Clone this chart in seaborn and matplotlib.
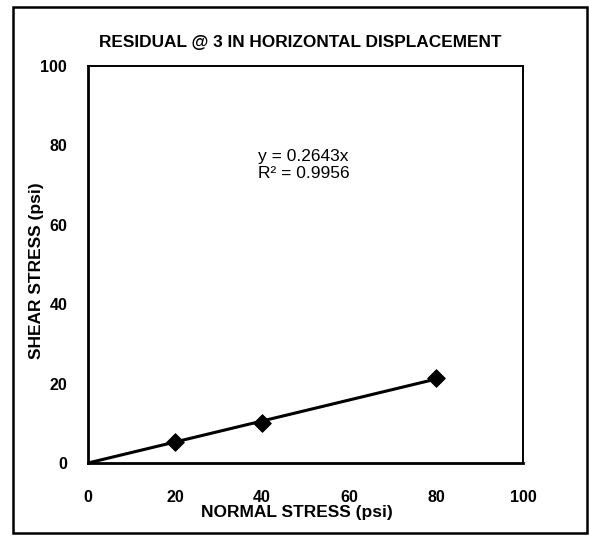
import numpy as np
import pandas as pd
import matplotlib
matplotlib.use("Agg")
import matplotlib.pyplot as plt
import seaborn as sns
from matplotlib.patches import Rectangle

# ---- data ----
normal_stress = [20, 40, 80]
shear_stress = [5.3, 10.0, 21.4]
slope = 0.2643
r_squared = 0.9956
trend_x = [0, 80]
x_ticks = [0, 20, 40, 60, 80, 100]
y_ticks = [0, 20, 40, 60, 80, 100]
title = "RESIDUAL @ 3 IN HORIZONTAL DISPLACEMENT"
x_label = "NORMAL STRESS (psi)"
y_label = "SHEAR STRESS (psi)"

sns.set_theme(style="white")
plt.rcParams["font.family"] = ["Liberation Sans", "DejaVu Sans"]

W, H = 589, 539
fig = plt.figure(figsize=(W / 100, H / 100), dpi=100)
ax = fig.add_axes([88 / W, 1 - 463 / H, 435 / W, 397 / H])

points = pd.DataFrame({"x": normal_stress, "y": shear_stress})
trend = pd.DataFrame({"x": trend_x, "y": [slope * v for v in trend_x]})

sns.lineplot(data=trend, x="x", y="y", ax=ax, color="black", linewidth=2.2)
sns.scatterplot(data=points, x="x", y="y", ax=ax, marker="D", s=80,
                color="black", edgecolor="black", zorder=3)

ax.set_xlim(0, 100)
ax.set_ylim(0, 100)
ax.set_xticks(x_ticks)
ax.set_yticks(y_ticks)
ax.set_xticklabels([str(v) for v in x_ticks], fontweight="bold", fontsize=11.5)
ax.set_yticklabels([str(v) for v in y_ticks], fontweight="bold", fontsize=11.5)
ax.tick_params(axis="both", direction="inout", length=8, width=1.2, colors="black")
ax.tick_params(axis="x", pad=15.5)
ax.tick_params(axis="y", pad=11)
for lab in ax.get_xticklabels() + ax.get_yticklabels():
    lab.set_color("black")

for side in ["left", "bottom"]:
    ax.spines[side].set_linewidth(2.0)
for side in ["top", "right"]:
    ax.spines[side].set_linewidth(1.4)
for sp in ax.spines.values():
    sp.set_color("black")

ax.set_xlabel(x_label, fontsize=12.5, fontweight="bold", color="black")
ax.xaxis.set_label_coords((297 - 88) / 435, (463 - 513) / 397)
ax.xaxis.label.set_verticalalignment("center")
ax.set_ylabel(y_label, fontsize=12.5, fontweight="bold", color="black")
ax.yaxis.set_label_coords((37 - 88) / 435, (463 - 271) / 397)
ax.yaxis.label.set_verticalalignment("center")

ax.text(39, 75, f"y = {slope}x\nR\u00b2 = {r_squared}", fontsize=12.5,
        color="black", ha="left", va="center", linespacing=1.2)

fig.text(300 / W, 1 - 42 / H, title, fontsize=12.4, fontweight="bold",
         ha="center", va="center", color="black")

fig.patches.append(Rectangle((13 / W, 1 - 533 / H), (587 - 13) / W, (533 - 7) / H,
                             transform=fig.transFigure, fill=False,
                             edgecolor="black", linewidth=1.8))

fig.savefig("out.png", dpi=100)
